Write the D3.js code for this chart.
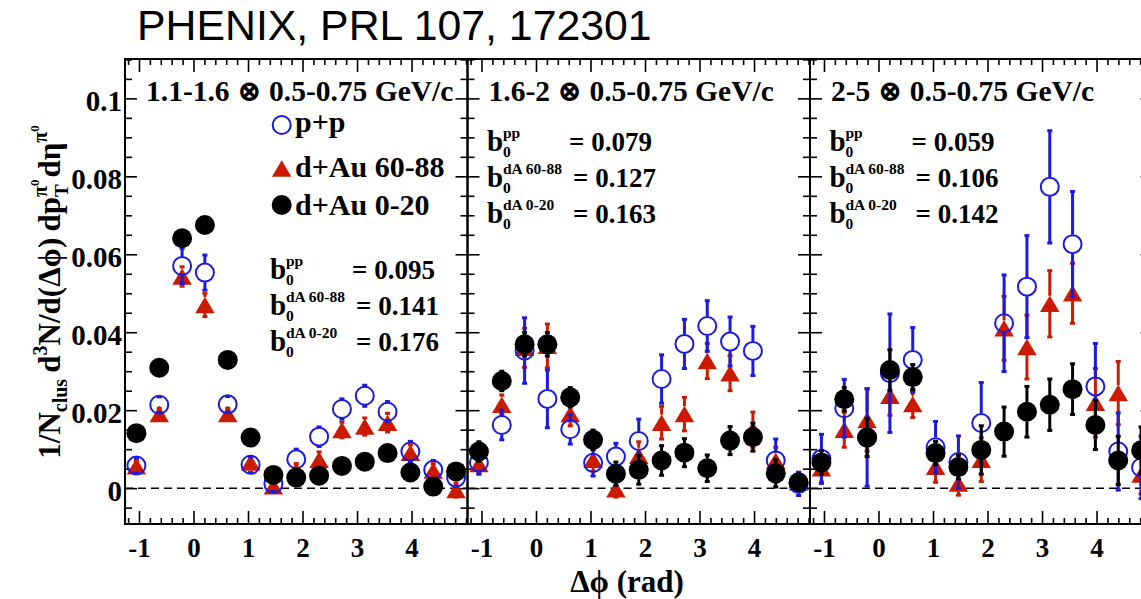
<!DOCTYPE html>
<html>
<head>
<meta charset="utf-8">
<script src="https://cdn.jsdelivr.net/npm/d3@7"></script>
<style>
  body { margin: 0; background: #fff; }
  svg { display: block; }
</style>
</head>
<body>
<svg id="chart" width="1141" height="599"></svg>
<script>
// Δφ bin centres (rad), 15 bins over [-0.4π, 1.6π]
const dphiBins = [-1.047, -0.628, -0.209, 0.209, 0.628, 1.047, 1.466, 1.885, 2.304, 2.723, 3.142, 3.560, 3.979, 4.398, 4.817];

// trigger pT ranges per panel, associated range shared
const triggerLabels = ["1.1-1.6", "1.6-2", "2-5"];
const assocLabel = "0.5-0.75 GeV/c";

// pedestal values per panel
const b0pp = ["0.095", "0.079", "0.059"];
const b0periph = ["0.141", "0.127", "0.106"];
const b0central = ["0.176", "0.163", "0.142"];

// p+p yields and errors, one row per panel
const ppY = [
  [0.0058, 0.0214, 0.0570, 0.0553, 0.0215, 0.0060, 0.0011, 0.0074, 0.0132, 0.0203, 0.0237, 0.0196, 0.0094, 0.0047, 0.0027],
  [0.0066, 0.0162, 0.0353, 0.0229, 0.0151, 0.0065, 0.0081, 0.0121, 0.0280, 0.0370, 0.0416, 0.0376, 0.0352, 0.0071, 0.0011],
  [0.0075, 0.0205, 0.0130, 0.0295, 0.0329, 0.0105, 0.0067, 0.0167, 0.0423, 0.0517, 0.0773, 0.0626, 0.0261, 0.0094, 0.0053]
];
const ppErr = [
  [0.0020, 0.0020, 0.0045, 0.0045, 0.0020, 0.0020, 0.0020, 0.0026, 0.0025, 0.0026, 0.0027, 0.0026, 0.0026, 0.0024, 0.0022],
  [0.0030, 0.0038, 0.0084, 0.0074, 0.0038, 0.0034, 0.0034, 0.0056, 0.0062, 0.0063, 0.0065, 0.0063, 0.0063, 0.0055, 0.0030],
  [0.0063, 0.0074, 0.0125, 0.0152, 0.0083, 0.0066, 0.0067, 0.0104, 0.0124, 0.0131, 0.0144, 0.0135, 0.0110, 0.0099, 0.0080]
];

// d+Au 60-88% yields and errors
const periphY = [
  [0.0056, 0.0190, 0.0543, 0.0470, 0.0190, 0.0066, 0.0005, 0.0045, 0.0073, 0.0149, 0.0158, 0.0168, 0.0091, 0.0045, -0.0005],
  [0.0062, 0.0214, 0.0360, 0.0365, 0.0190, 0.0073, -0.0003, 0.0083, 0.0168, 0.0190, 0.0326, 0.0295, 0.0150, 0.0070, 0.0015],
  [0.0051, 0.0150, 0.0175, 0.0237, 0.0216, 0.0055, 0.0012, 0.0073, 0.0410, 0.0362, 0.0473, 0.0500, 0.0219, 0.0244, 0.0035]
];
const periphErr = [
  [0.0015, 0.0015, 0.0025, 0.0030, 0.0015, 0.0015, 0.0015, 0.0018, 0.0020, 0.0020, 0.0022, 0.0024, 0.0020, 0.0018, 0.0018],
  [0.0025, 0.0025, 0.0050, 0.0056, 0.0030, 0.0030, 0.0020, 0.0036, 0.0042, 0.0043, 0.0045, 0.0045, 0.0045, 0.0035, 0.0020],
  [0.0035, 0.0045, 0.0080, 0.0050, 0.0035, 0.0040, 0.0030, 0.0056, 0.0082, 0.0082, 0.0085, 0.0077, 0.0088, 0.0081, 0.0050]
];

// d+Au 0-20% yields and errors
const centralY = [
  [0.0141, 0.0309, 0.0641, 0.0675, 0.0329, 0.0130, 0.0034, 0.0027, 0.0032, 0.0057, 0.0068, 0.0090, 0.0040, 0.0004, 0.0043],
  [0.0094, 0.0275, 0.0369, 0.0369, 0.0233, 0.0124, 0.0037, 0.0047, 0.0071, 0.0091, 0.0051, 0.0122, 0.0131, 0.0038, 0.0015],
  [0.0066, 0.0228, 0.0130, 0.0303, 0.0285, 0.0090, 0.0054, 0.0098, 0.0145, 0.0196, 0.0214, 0.0254, 0.0162, 0.0071, 0.0097]
];
const centralErr = [
  [0.0012, 0.0012, 0.0015, 0.0015, 0.0012, 0.0012, 0.0012, 0.0012, 0.0012, 0.0012, 0.0012, 0.0012, 0.0012, 0.0012, 0.0012],
  [0.0025, 0.0025, 0.0030, 0.0030, 0.0025, 0.0025, 0.0030, 0.0037, 0.0038, 0.0036, 0.0034, 0.0036, 0.0036, 0.0035, 0.0020],
  [0.0030, 0.0030, 0.0049, 0.0052, 0.0032, 0.0030, 0.0030, 0.0062, 0.0063, 0.0065, 0.0066, 0.0065, 0.0063, 0.0062, 0.0060]
];

// axis ticks
const xMajorTicks = [-1, 0, 1, 2, 3, 4];
const xMinorTicks = [-1.2, -0.8, -0.6, -0.4, -0.2, 0.2, 0.4, 0.6, 0.8, 1.2, 1.4, 1.6, 1.8, 2.2, 2.4, 2.6, 2.8, 3.2, 3.4, 3.6, 3.8, 4.2, 4.4, 4.6, 4.8, 5.0];
const yMajorTicks = [0, 0.02, 0.04, 0.06, 0.08, 0.1];
const yTickLabels = ["0", "0.02", "0.04", "0.06", "0.08", "0.1"];
const yMinorTicks = [-0.005, 0.005, 0.01, 0.015, 0.025, 0.03, 0.035, 0.045, 0.05, 0.055, 0.065, 0.07, 0.075, 0.085, 0.09, 0.095, 0.105, 0.11];

// ---------------------------------------------------------------
const SERIF = "'Liberation Serif', 'Times New Roman', 'DejaVu Serif', serif";
const SANS = "'Liberation Sans', Arial, sans-serif";
const BLUE = "#1a1ae0";
const RED = "#cc1a00";

const svg = d3.select("#chart");
svg.append("rect").attr("width", 1141).attr("height", 599).attr("fill", "#fff");

const plotTop = 59, plotBottom = 524, panelW = 342.5;
const panelLefts = [125, 467.5, 810];

const y = d3.scaleLinear().domain([-0.0092, 0.1101]).range([plotBottom, plotTop]);

// figure title
svg.append("text")
  .attr("x", 137).attr("y", 40)
  .attr("font-family", SANS).attr("font-size", 42.8)
  .attr("fill", "#000")
  .text("PHENIX, PRL 107, 172301");

function drawSeries(g, x, vals, errs, color, shape) {
  const half = shape === "tri" ? 8 : 9.5;
  const s = g.append("g");
  vals.forEach((v, i) => {
    const cx = x(dphiBins[i]);
    const cy = y(v);
    const yHi = y(v + errs[i]);
    const yLo = y(v - errs[i]);
    if (cy - yHi > half) {
      s.append("line").attr("x1", cx).attr("x2", cx).attr("y1", yHi).attr("y2", cy - half)
        .attr("stroke", color).attr("stroke-width", 3);
    }
    if (yLo - cy > half) {
      s.append("line").attr("x1", cx).attr("x2", cx).attr("y1", cy + half).attr("y2", yLo)
        .attr("stroke", color).attr("stroke-width", 3);
    }
    [yHi, yLo].forEach(yy => {
      s.append("rect").attr("x", cx - 2.5).attr("y", yy - 1.5).attr("width", 5).attr("height", 3)
        .attr("fill", color);
    });
  });
  vals.forEach((v, i) => {
    const cx = x(dphiBins[i]);
    const cy = y(v);
    if (shape === "open") {
      s.append("circle").attr("cx", cx).attr("cy", cy).attr("r", 9)
        .attr("fill", "none").attr("stroke", color).attr("stroke-width", 2);
    } else if (shape === "tri") {
      const w = 19.5, h = 16.5;
      s.append("path")
        .attr("d", `M${cx},${cy - h / 2}L${cx + w / 2},${cy + h / 2}L${cx - w / 2},${cy + h / 2}Z`)
        .attr("fill", color);
    } else {
      s.append("circle").attr("cx", cx).attr("cy", cy).attr("r", 10).attr("fill", color);
    }
  });
}

function styleAxis(sel) {
  sel.select(".domain").remove();
  sel.selectAll(".tick line").attr("stroke", "#000").attr("stroke-width", 1.6);
}

panelLefts.forEach((left, p) => {
  const x = d3.scaleLinear().domain([-0.4 * Math.PI, 1.6 * Math.PI]).range([left, left + panelW]);
  const g = svg.append("g");

  // zero reference line
  g.append("line")
    .attr("x1", left).attr("x2", left + panelW)
    .attr("y1", y(0)).attr("y2", y(0))
    .attr("stroke", "#000").attr("stroke-width", 1.5).attr("stroke-dasharray", "8,5");

  // bottom axis: major ticks with labels, minor ticks
  const bx = g.append("g").attr("transform", `translate(0,${plotBottom})`)
    .call(d3.axisBottom(x).tickValues(xMajorTicks).tickSizeInner(-13).tickSizeOuter(0).tickPadding(14)
      .tickFormat(d => String(d)));
  styleAxis(bx);
  bx.selectAll(".tick text").attr("font-family", SERIF).attr("font-weight", "bold")
    .attr("font-size", 27).attr("fill", "#000");
  styleAxis(g.append("g").attr("transform", `translate(0,${plotBottom})`)
    .call(d3.axisBottom(x).tickValues(xMinorTicks).tickSizeInner(-6).tickSizeOuter(0).tickFormat("")));

  // top axis ticks
  styleAxis(g.append("g").attr("transform", `translate(0,${plotTop})`)
    .call(d3.axisTop(x).tickValues(xMajorTicks).tickSizeInner(-13).tickSizeOuter(0).tickFormat("")));
  styleAxis(g.append("g").attr("transform", `translate(0,${plotTop})`)
    .call(d3.axisTop(x).tickValues(xMinorTicks).tickSizeInner(-6).tickSizeOuter(0).tickFormat("")));

  // left axis
  const ly = g.append("g").attr("transform", `translate(${left},0)`)
    .call(d3.axisLeft(y).tickValues(yMajorTicks).tickSizeInner(-12).tickSizeOuter(0).tickPadding(3)
      .tickFormat((d, i) => p === 0 ? yTickLabels[i] : ""));
  styleAxis(ly);
  ly.selectAll(".tick text").attr("font-family", SERIF).attr("font-weight", "bold")
    .attr("font-size", 29).attr("fill", "#000").attr("dy", "0.42em");
  styleAxis(g.append("g").attr("transform", `translate(${left},0)`)
    .call(d3.axisLeft(y).tickValues(yMinorTicks).tickSizeInner(-7).tickSizeOuter(0).tickFormat("")));

  // right axis ticks
  styleAxis(g.append("g").attr("transform", `translate(${left + panelW},0)`)
    .call(d3.axisRight(y).tickValues(yMajorTicks).tickSizeInner(-12).tickSizeOuter(0).tickFormat("")));
  styleAxis(g.append("g").attr("transform", `translate(${left + panelW},0)`)
    .call(d3.axisRight(y).tickValues(yMinorTicks).tickSizeInner(-7).tickSizeOuter(0).tickFormat("")));

  // frame
  g.append("rect").attr("x", left).attr("y", plotTop).attr("width", panelW).attr("height", plotBottom - plotTop)
    .attr("fill", "none").attr("stroke", "#000").attr("stroke-width", 2);

  // data: 60-88%, then p+p, then 0-20% on top
  drawSeries(g, x, periphY[p], periphErr[p], RED, "tri");
  drawSeries(g, x, ppY[p], ppErr[p], BLUE, "open");
  drawSeries(g, x, centralY[p], centralErr[p], "#000", "filled");

  // panel label
  g.append("text")
    .attr("x", left + 21).attr("y", 101)
    .attr("font-family", SERIF).attr("font-weight", "bold").attr("font-size", 29.5).attr("fill", "#000")
    .text(`${triggerLabels[p]} \u2297 ${assocLabel}`);

  // pedestal block: b with subscript 0 and a superscript system tag, then the value
  const bX = p === 0 ? 270 : left + 19.5;
  const rows = p === 0 ? [279, 315, 351] : [151, 187, 223];
  const sups = ["pp", "dA 60-88", "dA 0-20"];
  const vals = [b0pp[p], b0periph[p], b0central[p]];
  const eqOff = [82, 86, 86];
  rows.forEach((by, r) => {
    const t = g.append("g").attr("font-family", SERIF).attr("font-weight", "bold").attr("fill", "#000");
    t.append("text").attr("x", bX).attr("y", by).attr("font-size", 29).text("b");
    t.append("text").attr("x", bX + 16).attr("y", by + 5.5).attr("font-size", 15.5).text("0");
    t.append("text").attr("x", bX + 16).attr("y", by - 13).attr("font-size", 15.5).text(sups[r]);
    t.append("text").attr("x", bX + eqOff[r]).attr("y", by).attr("font-size", 27).text(`= ${vals[r]}`);
  });
});

// legend in the first panel
const legendItems = [
  { label: "p+p", color: BLUE, shape: "open", my: 125, ty: 132 },
  { label: "d+Au 60-88", color: RED, shape: "tri", my: 168.5, ty: 177 },
  { label: "d+Au 0-20", color: "#000", shape: "filled", my: 205, ty: 215 }
];
const lg = svg.append("g");
legendItems.forEach(it => {
  const mx = 281.7;
  if (it.shape === "open") {
    lg.append("circle").attr("cx", mx).attr("cy", it.my).attr("r", 9)
      .attr("fill", "none").attr("stroke", it.color).attr("stroke-width", 2);
  } else if (it.shape === "tri") {
    lg.append("path").attr("d", `M${mx},${it.my - 8.25}L${mx + 9.75},${it.my + 8.25}L${mx - 9.75},${it.my + 8.25}Z`)
      .attr("fill", it.color);
  } else {
    lg.append("circle").attr("cx", mx).attr("cy", it.my).attr("r", 10).attr("fill", it.color);
  }
  lg.append("text").attr("x", 295).attr("y", it.ty)
    .attr("font-family", SERIF).attr("font-weight", "bold").attr("font-size", 30).attr("fill", "#000")
    .text(it.label);
});

// x-axis title
svg.append("text")
  .attr("x", 627).attr("y", 592).attr("text-anchor", "middle")
  .attr("font-family", SERIF).attr("font-weight", "bold").attr("font-size", 31).attr("fill", "#000")
  .text("\u0394\u03d5 (rad)");

// y-axis title assembled piece by piece along the rotated baseline
const yt = svg.append("g").attr("font-family", SERIF).attr("font-weight", "bold").attr("fill", "#000");
const pieces = [
  { t: "1/N", s: 31, dy: 0 },
  { t: "clus", s: 20, dy: 7 },
  { t: "\u2009d", s: 31, dy: 0 },
  { t: "3", s: 20, dy: -13 },
  { t: "N/d(\u0394\u03d5)\u2009dp", s: 31, dy: 0 },
  { stack: [{ t: "T", s: 19, dy: 8 }, { t: "\u03c0", s: 20, dy: -13, next: { t: "0", s: 13, dy: -21 } }] },
  { t: "d\u03b7", s: 31, dy: 0 },
  { t: "\u03c0", s: 20, dy: -13 },
  { t: "0", s: 13, dy: -21 }
];
const inner = yt.append("g");
let cursor = 0;
function put(piece, xPos) {
  const el = inner.append("text").attr("x", xPos).attr("y", piece.dy).attr("font-size", piece.s).text(piece.t);
  return el.node().getComputedTextLength();
}
pieces.forEach(pc => {
  if (pc.stack) {
    let maxW = 0;
    pc.stack.forEach(st => {
      let w = put(st, cursor);
      if (st.next) w += put(st.next, cursor + w);
      maxW = Math.max(maxW, w);
    });
    cursor += maxW + 2;
  } else {
    cursor += put(pc, cursor);
  }
});
inner.attr("transform", `translate(${-cursor / 2},0)`);
yt.attr("transform", "translate(60,292) rotate(-90)");
</script>
</body>
</html>
